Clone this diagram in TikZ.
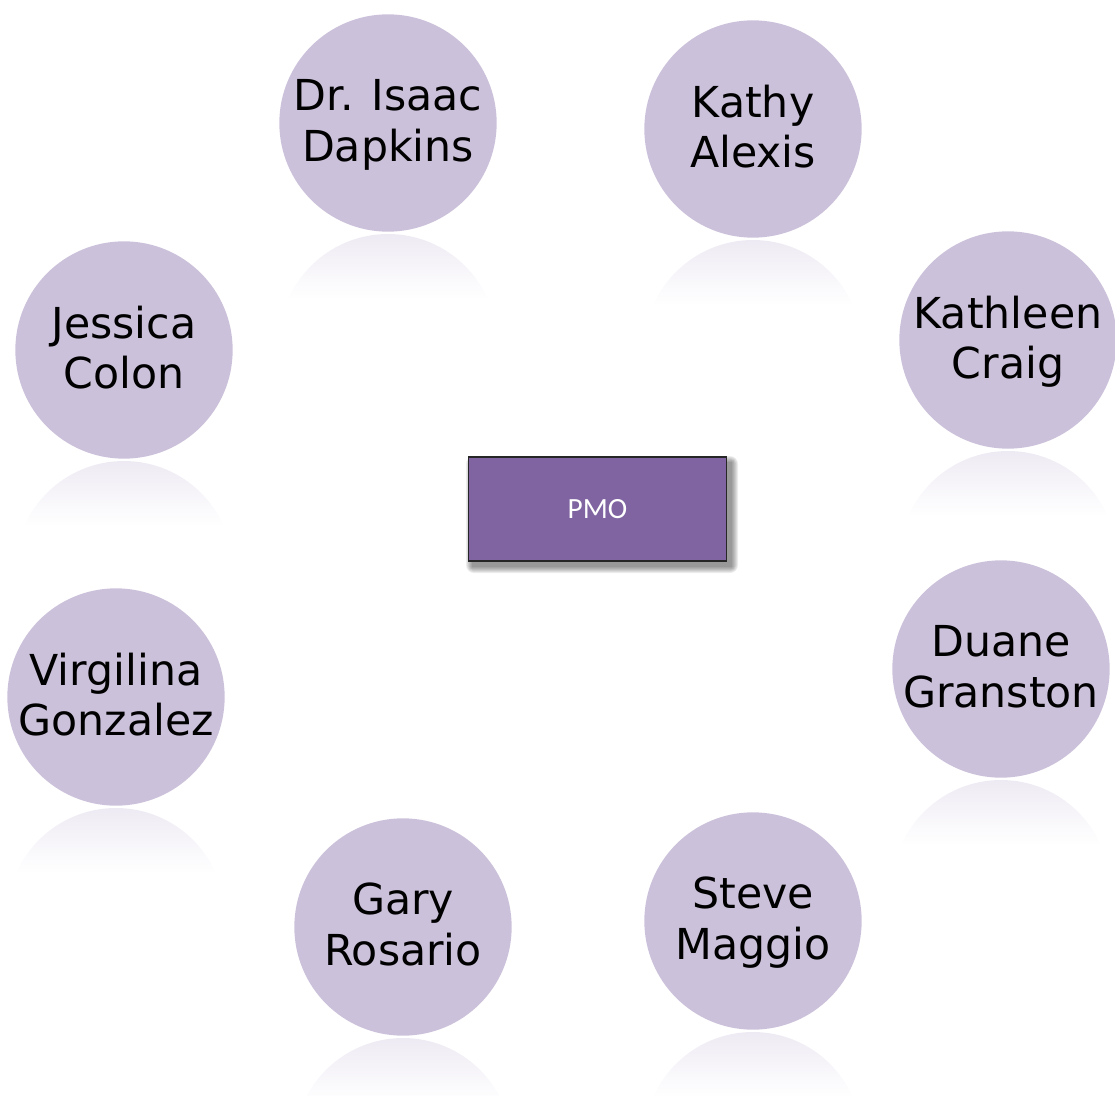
\documentclass[tikz,border=0pt]{standalone}
\usepackage{fontspec}
\setmainfont{DejaVu Sans}
\newfontfamily\boxfont{Carlito}
\definecolor{lav}{HTML}{CCC1DA}
\definecolor{pmofill}{HTML}{8064A2}
\definecolor{glow}{HTML}{EEEAF3}

\begin{document}
\begin{tikzpicture}[x=0.75pt, y=-0.75pt, every node/.style={font=\fontsize{32}{38}\selectfont},
  person/.style={circle, fill=lav, minimum size=163pt, inner sep=0pt, align=center, text depth=4pt},
  hub/.style={draw=black!85, line width=0.9pt, fill=pmofill, minimum width=194pt, minimum height=78pt, text=white, font=\boxfont\fontsize{22}{26}\selectfont}]
	\useasboundingbox (0,0) rectangle (1115,1096);
	% faded reflections under the circles
	\foreach \x/\y in {388/123, 753/129, 1008/340, 1001/669, 753/921, 403/927, 116/697, 124/350} {
		\begin{scope}
			\clip (\x,\y+220) circle (109);
			\shade[top color=glow, bottom color=white] (\x-110,\y+111) rectangle (\x+110,\y+176);
		\end{scope}
	}
	\node[person] (dapkins) at (388,123) {Dr. Isaac\\Dapkins};
	\node[person] (alexis) at (753,129) {Kathy\\Alexis};
	\node[person] (craig) at (1008,340) {Kathleen\\Craig};
	\node[person] (granston) at (1001,669) {Duane\\Granston};
	\node[person] (maggio) at (753,921) {Steve\\Maggio};
	\node[person] (rosario) at (403,927) {Gary\\Rosario};
	\node[person] (gonzalez) at (116,697) {Virgilina\\Gonzalez};
	\node[person] (colon) at (124,350) {Jessica\\Colon};
	% soft shadow of the box
	\foreach \i in {0,...,6} {
		\fill[black, opacity=0.07, rounded corners=\i pt] (472-\i,462-\i) rectangle (732+\i,567+\i);
	}
	\node[hub] (pmo) at (597.5,509) {PMO};
\end{tikzpicture}
\end{document}
